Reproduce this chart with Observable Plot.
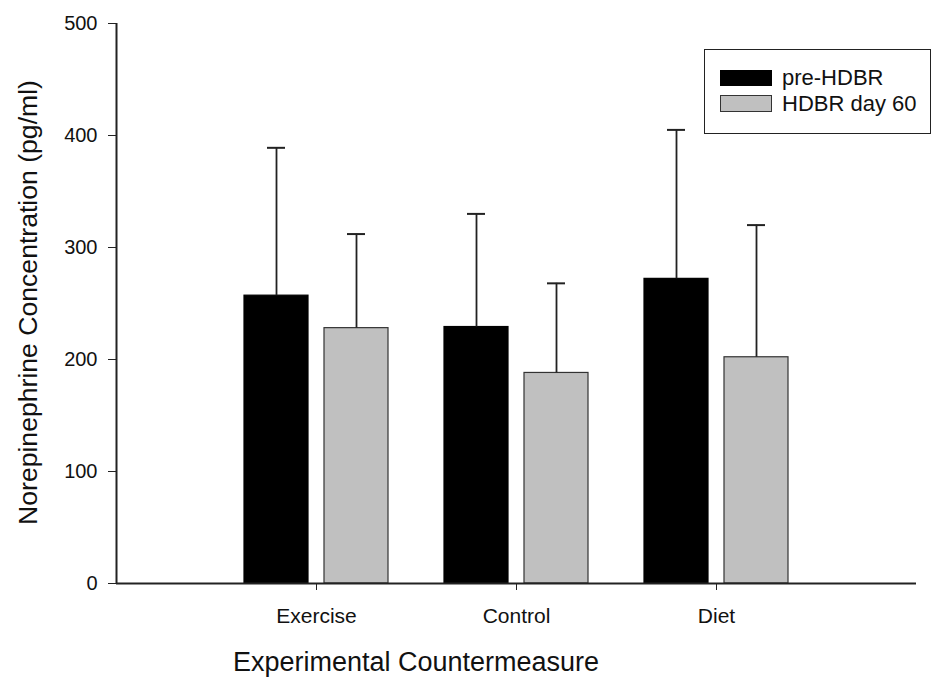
<!DOCTYPE html>
<html>
<head>
<meta charset="utf-8">
<script src="https://cdn.jsdelivr.net/npm/d3@7"></script>
<script src="https://cdn.jsdelivr.net/npm/@observablehq/plot@0.6"></script>
<style>
  html, body { margin: 0; padding: 0; background: #fff; }
  #wrap { position: relative; width: 932px; height: 679px; font-family: "Liberation Sans", Arial, sans-serif; }
  #legend { position: absolute; left: 704px; top: 49px; width: 227px; height: 85px; border: 1.5px solid #222; box-sizing: border-box; background: #fff; }
  .sw { position: absolute; left: 14.5px; width: 52px; height: 16px; box-sizing: border-box; }
  .lt { position: absolute; left: 77px; font-size: 22px; line-height: 22px; color: #111; white-space: nowrap; }
</style>
</head>
<body>
<div id="wrap"></div>
<script>
const categories = ["Exercise", "Control", "Diet"];
const preMean = [257, 229, 272];
const preSD = [132, 101, 133];
const postMean = [228, 188, 202];
const postSD = [84, 80, 118];
const seriesNames = ["pre-HDBR", "HDBR day 60"];
const yTicks = [0, 100, 200, 300, 400, 500];

const rows = [];
categories.forEach((c, i) => {
  rows.push({cat: c, idx: i + 1, series: seriesNames[0], mean: preMean[i], sd: preSD[i], side: -1});
  rows.push({cat: c, idx: i + 1, series: seriesNames[1], mean: postMean[i], sd: postSD[i], side: 1});
});
const colorOf = {"pre-HDBR": "#000000", "HDBR day 60": "#c0c0c0"};
const strokeOf = {"pre-HDBR": "#000000", "HDBR day 60": "#333333"};
const center = d => d.idx + d.side * 0.2;

const chart = Plot.plot({
  width: 932,
  height: 679,
  marginLeft: 116,
  marginRight: 16,
  marginTop: 23,
  marginBottom: 96,
  style: {fontFamily: "Liberation Sans, Arial, sans-serif", fontSize: "20px", color: "#111", background: "#fff"},
  x: {domain: [0, 4], axis: null},
  y: {domain: [0, 500], axis: null},
  marks: [
    Plot.rectY(rows, {
      x1: d => center(d) - 0.16, x2: d => center(d) + 0.16,
      y1: 0, y2: "mean",
      fill: d => colorOf[d.series], stroke: d => strokeOf[d.series], strokeWidth: 1.2
    }),
    Plot.ruleX(rows, {x: center, y1: "mean", y2: d => d.mean + d.sd, stroke: "#222", strokeWidth: 1.8}),
    Plot.ruleY(rows, {y: d => d.mean + d.sd, x1: d => center(d) - 0.045, x2: d => center(d) + 0.045, stroke: "#222", strokeWidth: 2}),
    Plot.axisY({ticks: yTicks, tickSize: 8, tickPadding: 11, label: null, fontSize: 20, stroke: "#222"}),
    Plot.axisX({ticks: categories.map((c, i) => i + 1), tickFormat: v => categories[v - 1], tickSize: 7, tickPadding: 18, label: null, fontSize: 21, stroke: "#222"}),
    Plot.ruleX([0], {y1: 0, y2: 500, stroke: "#222", strokeWidth: 2}),
    Plot.ruleY([0], {stroke: "#222", strokeWidth: 2})
  ]
});

const wrap = document.getElementById("wrap");
wrap.appendChild(chart);

const svg = d3.select(chart);
svg.append("text")
  .attr("x", 416).attr("y", 670.5)
  .attr("text-anchor", "middle")
  .style("font-size", "27px").style("fill", "#111")
  .text("Experimental Countermeasure");
svg.append("text")
  .attr("transform", "translate(37,302.5) rotate(-90)")
  .attr("text-anchor", "middle")
  .style("font-size", "26.6px").style("fill", "#111")
  .text("Norepinephrine Concentration (pg/ml)");

const legend = document.createElement("div");
legend.id = "legend";
seriesNames.forEach((s, i) => {
  const sw = document.createElement("div");
  sw.className = "sw";
  sw.style.top = (i === 0 ? 20 : 45) + "px";
  sw.style.height = (i === 0 ? 16 : 17) + "px";
  sw.style.background = colorOf[s];
  sw.style.border = "1.2px solid " + strokeOf[s];
  legend.appendChild(sw);
  const t = document.createElement("div");
  t.className = "lt";
  t.style.top = (i === 0 ? 17 : 43.4) + "px";
  t.textContent = s;
  legend.appendChild(t);
});
wrap.appendChild(legend);
</script>
</body>
</html>
